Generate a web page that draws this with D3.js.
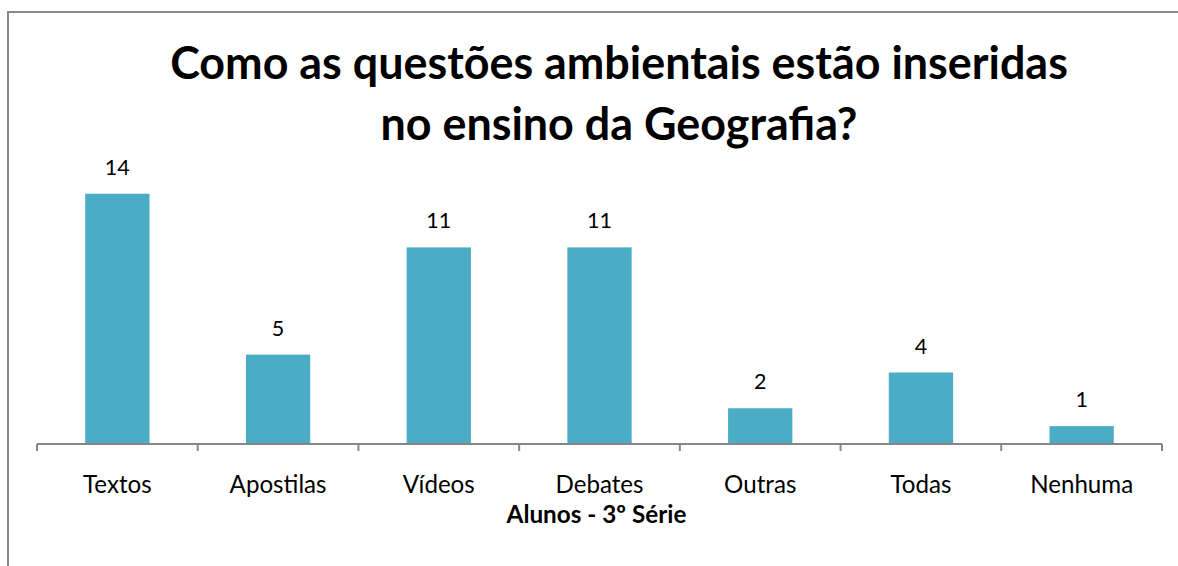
<!DOCTYPE html>
<html>
<head>
<meta charset="utf-8">
<script src="https://cdn.jsdelivr.net/npm/d3@7"></script>
<style>
  body { margin: 0; background: #fff; }
  svg { display: block; }
</style>
</head>
<body>
<svg id="chart" width="1178" height="566"></svg>
<script>
var categories = ["Textos", "Apostilas", "Vídeos", "Debates", "Outras", "Todas", "Nenhuma"];
var values = [14, 5, 11, 11, 2, 4, 1];
var titleLines = ["Como as questões ambientais estão inseridas", "no ensino da Geografia?"];
var axisTitle = "Alunos - 3º Série";

var FONT = "Lato, 'Open Sans', sans-serif";

var svg = d3.select("#chart");
var W = +svg.attr("width");
var H = +svg.attr("height");

// find a font size that gives the text a given width
function fitSize(txt, weight, target) {
    var t = svg.append("text")
	.style("font-family", FONT)
	.style("font-weight", weight)
	.style("font-size", "20px")
	.text(txt);
    var w = t.node().getComputedTextLength();
    t.remove();
    return 20 * target / w;
}

// chart frame (right and bottom edges fall outside the picture)
svg.append("rect")
    .attr("x", 8).attr("y", 12)
    .attr("width", W + 20).attr("height", H + 20)
    .attr("fill", "#fff")
    .attr("stroke", "#888")
    .attr("stroke-width", 2);

var left = 37, right = 1162, base = 444;

var x = d3.scaleBand()
    .domain(categories)
    .range([left, right])
    .paddingInner(0.6)
    .paddingOuter(0.3);
var step = x.step();

var y = d3.scaleLinear()
    .domain([0, 16])
    .range([base, 158]);

var data = categories.map(function(c, i) { return {cat: c, val: values[i]}; });

var g = svg.append("g");

g.selectAll(".bar")
    .data(data)
    .enter().append("rect")
    .attr("class", "bar")
    .attr("x", d => x(d.cat))
    .attr("y", d => y(d.val))
    .attr("width", x.bandwidth())
    .attr("height", d => base - y(d.val))
    .attr("fill", "#4BACC6");

// category axis
g.append("line")
    .attr("x1", left).attr("x2", right)
    .attr("y1", base).attr("y2", base)
    .attr("stroke", "#868686")
    .attr("stroke-width", 2);

g.selectAll(".tick")
    .data(d3.range(categories.length + 1))
    .enter().append("line")
    .attr("class", "tick")
    .attr("x1", i => left + i * step)
    .attr("x2", i => left + i * step)
    .attr("y1", base).attr("y2", base + 7)
    .attr("stroke", "#868686")
    .attr("stroke-width", 2);

var catSize = fitSize("Apostilas", "normal", 97);
g.selectAll(".catlabel")
    .data(data)
    .enter().append("text")
    .attr("class", "catlabel")
    .attr("x", d => x(d.cat) + x.bandwidth() / 2)
    .attr("y", 493)
    .attr("text-anchor", "middle")
    .style("font-family", FONT)
    .style("font-size", catSize + "px")
    .attr("fill", "#000")
    .text(d => d.cat);

var valSize = fitSize("14", "normal", 25);
g.selectAll(".vallabel")
    .data(data)
    .enter().append("text")
    .attr("class", "vallabel")
    .attr("x", d => x(d.cat) + x.bandwidth() / 2)
    .attr("y", d => y(d.val) - 19)
    .attr("text-anchor", "middle")
    .style("font-family", FONT)
    .style("font-size", valSize + "px")
    .attr("fill", "#000")
    .text(d => d.val);

svg.append("text")
    .attr("x", (left + right) / 2 - 3)
    .attr("y", 523)
    .attr("text-anchor", "middle")
    .style("font-family", FONT)
    .style("font-weight", "bold")
    .style("font-size", fitSize(axisTitle, "bold", 180) + "px")
    .text(axisTitle);

var titleSize = fitSize(titleLines[0], "bold", 898);
svg.selectAll(".title")
    .data(titleLines)
    .enter().append("text")
    .attr("class", "title")
    .attr("x", 619)
    .attr("y", (d, i) => 79 + i * 61)
    .attr("text-anchor", "middle")
    .style("font-family", FONT)
    .style("font-weight", "bold")
    .style("font-size", titleSize + "px")
    .text(d => d);
</script>
</body>
</html>
